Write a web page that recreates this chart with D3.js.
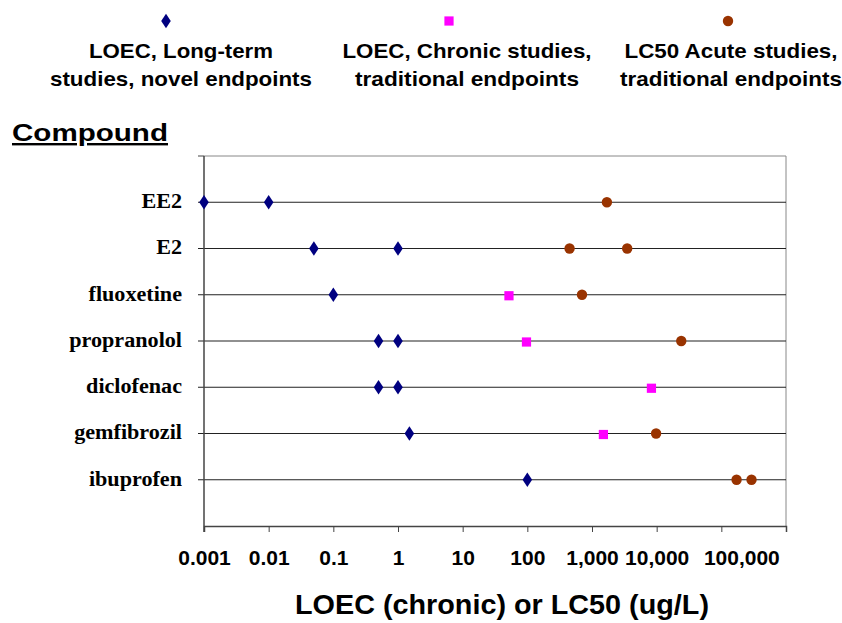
<!DOCTYPE html>
<html>
<head>
<meta charset="utf-8">
<script src="https://cdn.jsdelivr.net/npm/d3@7"></script>
<style>
  body { margin: 0; background: #fff; }
  svg text { font-family: "Liberation Sans", Arial, sans-serif; font-weight: bold; }
</style>
</head>
<body>
<div id="chart"></div>
<script>
// compounds, top to bottom
const compounds = ["EE2", "E2", "fluoxetine", "propranolol", "diclofenac", "gemfibrozil", "ibuprofen"];

// LOEC, long-term studies, novel endpoints
const loecNovel = [
  ["EE2", 0.001], ["EE2", 0.01],
  ["E2", 0.05], ["E2", 1],
  ["fluoxetine", 0.1],
  ["propranolol", 0.5], ["propranolol", 1],
  ["diclofenac", 0.5], ["diclofenac", 1],
  ["gemfibrozil", 1.5],
  ["ibuprofen", 100]
];

// LOEC, chronic studies, traditional endpoints
const loecChronic = [
  ["fluoxetine", 52],
  ["propranolol", 97],
  ["diclofenac", 8300],
  ["gemfibrozil", 1500]
];

// LC50, acute studies, traditional endpoints
const lc50Acute = [
  ["EE2", 1700],
  ["E2", 450], ["E2", 3500],
  ["fluoxetine", 700],
  ["propranolol", 24000],
  ["gemfibrozil", 9800],
  ["ibuprofen", 172000], ["ibuprofen", 293000]
];

const xTicks = [0.001, 0.01, 0.1, 1, 10, 100, 1000, 10000, 100000, 1000000];
const xTickLabels = ["0.001", "0.01", "0.1", "1", "10", "100", "1,000", "10,000", "100,000", ""];

const legendNames = [
  ["LOEC, Long-term", "studies, novel endpoints"],
  ["LOEC, Chronic studies,", "traditional endpoints"],
  ["LC50 Acute studies,", "traditional endpoints"]
];

const W = 842, H = 623;
const margin = {top: 156, right: 56, bottom: 97, left: 204};
const width = W - margin.left - margin.right;
const height = H - margin.top - margin.bottom;

const svg = d3.select("#chart").append("svg")
  .attr("width", W).attr("height", H);

const g = svg.append("g")
  .attr("transform", "translate(" + margin.left + "," + margin.top + ")");

const x = d3.scaleLog()
  .domain([0.001, 1000000])
  .range([0, width]);

// categories sit on rows 1..7 of an 8-step axis
const y = d3.scaleLinear()
  .domain([0, compounds.length + 1])
  .range([0, height]);
const yOf = name => y(compounds.indexOf(name) + 1);

// the original text is a bit wider than the fonts we have
function stretch(sel, k) {
  sel.attr("lengthAdjust", "spacingAndGlyphs")
    .attr("textLength", function() { return this.getComputedTextLength() * k; });
}

// frame
g.append("line").attr("x1", 0).attr("x2", width).attr("y1", 0).attr("y2", 0)
  .attr("stroke", "#888");
g.append("line").attr("x1", width).attr("x2", width).attr("y1", 0).attr("y2", height)
  .attr("stroke", "#888");

// gridlines at each compound
g.selectAll(".grid")
  .data(compounds)
  .enter()
  .append("line")
    .attr("x1", -6).attr("x2", width)
    .attr("y1", d => yOf(d)).attr("y2", d => yOf(d))
    .attr("stroke", "#222").attr("stroke-width", 1.2);

// top tick
g.append("line").attr("x1", -6).attr("x2", 0).attr("y1", 0).attr("y2", 0)
  .attr("stroke", "#444");

// y axis line
g.append("line").attr("x1", 0).attr("x2", 0).attr("y1", 0).attr("y2", height + 6)
  .attr("stroke", "#444").attr("stroke-width", 1.5);

// y labels
g.selectAll(".ylab")
  .data(compounds)
  .enter()
  .append("text")
    .attr("x", -22)
    .attr("y", d => yOf(d))
    .attr("dy", "0.29em")
    .attr("text-anchor", "end")
    .style("font-family", "'Liberation Serif', 'Times New Roman', serif")
    .style("font-size", "20.5px")
    .text(d => d)
    .call(stretch, 1.08);

// x axis
const xAxis = g.append("g")
  .attr("transform", "translate(0," + height + ")")
  .call(d3.axisBottom(x).tickValues(xTicks).tickSize(6).tickPadding(18)
    .tickFormat((d, i) => xTickLabels[i]));
xAxis.select(".domain").attr("stroke", "#444").attr("stroke-width", 1.5);
xAxis.selectAll(".tick line").attr("stroke", "#444");
xAxis.selectAll("text")
  .attr("fill", "#000")
  .attr("dx", (d, i) => i === 8 ? 20 : 0)
  .style("font-family", "'Liberation Sans', Arial, sans-serif")
  .style("font-size", "21px")
  .style("font-weight", "bold");

// axis title
svg.append("text")
  .attr("x", 502).attr("y", 614)
  .attr("text-anchor", "middle")
  .style("font-size", "27px")
  .text("LOEC (chronic) or LC50 (ug/L)")
  .attr("lengthAdjust", "spacingAndGlyphs")
  .attr("textLength", 414);

// "Compound" heading
svg.append("text")
  .attr("x", 12).attr("y", 141)
  .style("font-size", "24px")
  .style("text-decoration", "underline")
  .text("Compound")
  .attr("lengthAdjust", "spacingAndGlyphs")
  .attr("textLength", 156);

// markers
const diamond = d3.symbol().type(d3.symbolDiamond).size(60);
const square = d3.symbol().type(d3.symbolSquare).size(85);
const circle = d3.symbol().type(d3.symbolCircle).size(85);

g.selectAll(".novel")
  .data(loecNovel)
  .enter()
  .append("path")
    .attr("d", diamond)
    .attr("transform", d => "translate(" + x(d[1]) + "," + yOf(d[0]) + ") scale(1.15,1)")
    .attr("fill", "#000080");

g.selectAll(".chronic")
  .data(loecChronic)
  .enter()
  .append("path")
    .attr("d", square)
    .attr("transform", d => "translate(" + x(d[1]) + "," + (yOf(d[0]) + 1) + ")")
    .attr("fill", "#FF00FF");

g.selectAll(".acute")
  .data(lc50Acute)
  .enter()
  .append("path")
    .attr("d", circle)
    .attr("transform", d => "translate(" + x(d[1]) + "," + yOf(d[0]) + ")")
    .attr("fill", "#993300");

// legend
const legendX = [181, 467, 731];
const legendMarkX = [166, 449, 728];
const legendWidths = [[184, 262], [249, 224], [213, 222]];
const legendSyms = [
  {sym: diamond, fill: "#000080", sx: 1.15},
  {sym: square, fill: "#FF00FF", sx: 1},
  {sym: circle, fill: "#993300", sx: 1}
];
legendNames.forEach((lines, i) => {
  svg.append("path")
    .attr("d", legendSyms[i].sym)
    .attr("transform", "translate(" + legendMarkX[i] + ",21) scale(" + legendSyms[i].sx + ",1)")
    .attr("fill", legendSyms[i].fill);
  lines.forEach((t, j) => {
    svg.append("text")
      .attr("x", legendX[i]).attr("y", 58 + j * 28)
      .attr("text-anchor", "middle")
      .style("font-size", "21px")
      .text(t)
      .attr("lengthAdjust", "spacingAndGlyphs")
      .attr("textLength", legendWidths[i][j]);
  });
});
</script>
</body>
</html>
